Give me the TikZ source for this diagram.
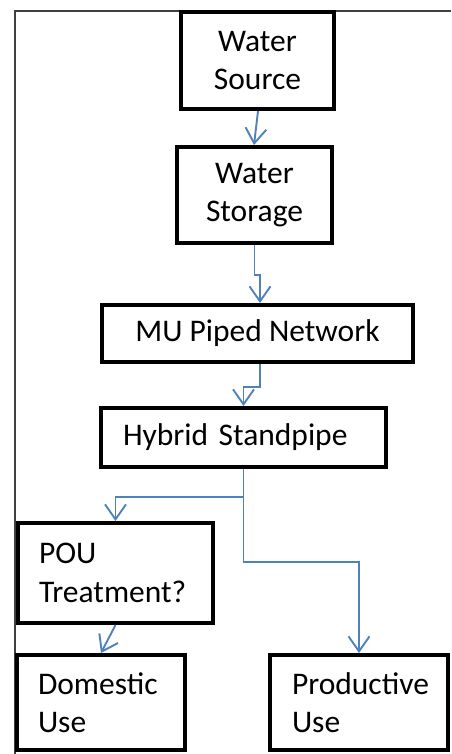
\documentclass[tikz,border=0pt]{standalone}
\usepackage{fontspec}
\setmainfont{Carlito}
\usetikzlibrary{arrows.meta}
\definecolor{arrblue}{HTML}{4F81BD}
\definecolor{framegray}{HTML}{404040}
\tikzset{
  box/.style={draw=black, line width=4pt, rectangle, inner sep=0pt,
    font=\fontsize{31.5}{38.5}\selectfont, align=center},
  lbox/.style={box, align=left},
  arr/.style={draw=arrblue, line width=1.9pt,
    -{Straight Barb[length=15pt,width=21pt,line width=1.9pt]}},
  frameline/.style={draw=framegray, line width=2pt}
}
\begin{document}
\begin{tikzpicture}[x=1pt,y=-1pt]
\useasboundingbox (0,0) rectangle (451,754);
\draw[frameline] (15,754) -- (15,11) -- (451,11);
\node[box, minimum width=153pt, minimum height=97pt] (src) at (257.5,60.5) {Water\\Source};
\node[box, minimum width=155pt, minimum height=96pt] (stor) at (254.5,195) {Water\\Storage};
\node[box, minimum width=311pt, minimum height=57pt] (mu) at (257.5,333.5) {MU Piped Network};
\node[lbox, text width=241pt, inner xsep=22pt, minimum height=59pt] (hyb) at (243.5,437.5) {Hybrid Standpipe};
\node[lbox, text width=153pt, inner xsep=21pt, minimum height=100pt] (pou) at (115.5,573) {POU\\Treatment?};
\node[lbox, text width=126pt, inner xsep=21pt, minimum height=95pt] (dom) at (101,702.5) {Domestic\\Use};
\node[lbox, text width=134pt, inner xsep=22pt, minimum height=95pt] (prod) at (359,702.5) {Productive\\Use};
\draw[arr] ([xshift=0.5pt]src.south) -- ([xshift=-0.5pt]stor.north);
\draw[arr] (stor.south) -- ++(0,-30pt) -| ([xshift=2.5pt]mu.north);
\draw[arr] ([xshift=2.5pt]mu.south) -- ++(0,-23pt) -| (hyb.north);
\draw[arr] (hyb.south) -- ++(0,-28pt) coordinate (br) -| (pou.north);
\draw[arr] (br) -- ++(0,-65pt) -| (prod.north);
\draw[arr] (pou.south) -- (dom.north);
\end{tikzpicture}
\end{document}
